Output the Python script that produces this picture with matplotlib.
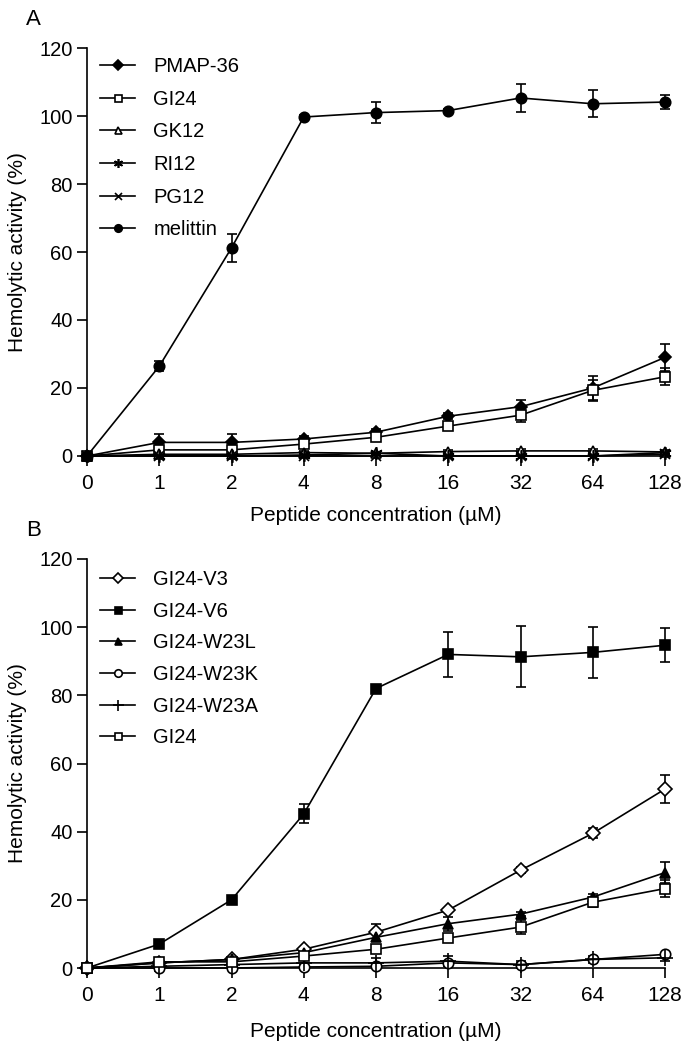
import numpy as np
import matplotlib
matplotlib.use("Agg")
import matplotlib.pyplot as plt

plt.rcParams['font.family'] = ['Liberation Sans', 'DejaVu Sans']

# x axis categories (µM), plotted at equal spacing
conc_labels = ['0', '1', '2', '4', '8', '16', '32', '64', '128']

# --- Panel A ---
pmap36 = [0, 4.0, 4.0, 5.0, 7.0, 11.7, 14.5, 20.0, 29.0]
pmap36_err = [0, 2.5, 2.5, 1.0, 0.8, 0.8, 2.0, 3.5, 4.0]
gi24 = [0, 1.8, 1.8, 3.5, 5.5, 8.8, 12.0, 19.3, 23.3]
gi24_err = [0, 0.5, 0.5, 0.8, 0.8, 1.0, 2.0, 3.0, 2.5]
gk12 = [0, 0.5, 0.5, 1.0, 0.8, 1.3, 1.5, 1.5, 1.2]
gk12_err = [0, 0.3, 0.3, 0.5, 0.5, 0.5, 0.5, 0.5, 0.5]
ri12 = [0, 0.0, 0.0, 0.3, 0.8, 0.0, 0.0, 0.0, 1.0]
ri12_err = [0, 0, 0, 0.3, 0.3, 0, 0, 0, 0.3]
pg12 = [0, 0, 0, 0, 0, 0, 0, 0, 0.5]
pg12_err = [0, 0, 0, 0, 0, 0, 0, 0, 0]
melittin = [0, 26.4, 61.2, 99.7, 101.0, 101.6, 105.3, 103.6, 104.1]
melittin_err = [0, 1.5, 4.0, 0.5, 3.0, 0.5, 4.0, 4.0, 2.0]

# --- Panel B ---
v3 = [0, 1.5, 2.5, 5.5, 10.5, 17.0, 28.7, 39.5, 52.5]
v3_err = [0, 0.3, 0.8, 0.5, 2.5, 0.5, 0.8, 1.5, 4.0]
v6 = [0, 7.0, 20.0, 45.2, 82.0, 92.0, 91.3, 92.6, 94.7]
v6_err = [0, 0.5, 0.5, 2.8, 0.8, 6.5, 9.0, 7.5, 5.0]
w23l = [0, 1.5, 2.5, 4.5, 9.0, 13.0, 15.8, 20.8, 28.0]
w23l_err = [0, 0.3, 0.5, 1.0, 1.0, 2.0, 0.5, 0.8, 3.0]
w23k = [0, 0.0, 0.0, 0.3, 0.5, 1.5, 1.0, 2.5, 4.0]
w23k_err = [0, 0.3, 0.3, 0.5, 0.5, 0.5, 0.5, 0.5, 0.5]
w23a = [0, 0.5, 1.0, 1.5, 1.5, 2.0, 1.0, 2.5, 3.0]
w23a_err = [0, 1.5, 1.0, 1.5, 1.5, 1.5, 1.0, 1.0, 1.0]
gi24_b = [0, 1.8, 1.8, 3.5, 5.5, 8.8, 12.0, 19.3, 23.3]
gi24_b_err = [0, 0.5, 0.5, 0.8, 0.8, 1.0, 2.0, 1.5, 2.5]

series_a = [
    ('PMAP-36', pmap36, pmap36_err, 'D', 'black', 6.5),
    ('GI24', gi24, gi24_err, 's', 'white', 7),
    ('GK12', gk12, gk12_err, '^', 'white', 7),
    ('RI12', ri12, ri12_err, (6, 2, 0), 'black', 9),
    ('PG12', pg12, pg12_err, 'x', 'black', 7),
    ('melittin', melittin, melittin_err, 'o', 'black', 7.5),
]
series_b = [
    ('GI24-V3', v3, v3_err, 'D', 'white', 7),
    ('GI24-V6', v6, v6_err, 's', 'black', 7),
    ('GI24-W23L', w23l, w23l_err, '^', 'black', 7),
    ('GI24-W23K', w23k, w23k_err, 'o', 'white', 7.5),
    ('GI24-W23A', w23a, w23a_err, '+', 'black', 11),
    ('GI24', gi24_b, gi24_b_err, 's', 'white', 7),
]

W, H = 694, 1042
fig = plt.figure(figsize=(W / 100, H / 100), dpi=100)

x = np.arange(len(conc_labels))


def draw_panel(ax, series, letter, legend_top, legend_spacing, xlabel_pad):
    for name, vals, err, mk, fc, ms in series:
        ax.errorbar(x, vals, yerr=err, color='black', lw=1.2, marker=mk,
                    markersize=ms, markerfacecolor=fc, markeredgecolor='black',
                    markeredgewidth=1.2, elinewidth=1.2, capsize=3.6, capthick=1.2,
                    label=name, clip_on=False, zorder=3)
    ax.set_xlim(0, 8)
    ax.set_ylim(0, 120)
    ax.set_xticks(x)
    ax.set_xticklabels(conc_labels)
    ax.set_yticks(range(0, 121, 20))
    ax.spines['top'].set_visible(False)
    ax.spines['right'].set_visible(False)
    ax.spines['left'].set_linewidth(1.2)
    ax.spines['bottom'].set_linewidth(1.2)
    ax.tick_params(direction='out', length=7, width=1.2)
    ax.tick_params(axis='y', labelsize=14.5, pad=3.5)
    ax.tick_params(axis='x', labelsize=15, pad=6)
    ax.set_xlabel('Peptide concentration (\u00b5M)', fontsize=15, labelpad=xlabel_pad)
    ax.set_ylabel('Hemolytic activity (%)', fontsize=15, labelpad=9)

    handles, labels = ax.get_legend_handles_labels()
    handles = [h[0] for h in handles]
    ax.legend(handles, labels, loc='upper left',
              bbox_to_anchor=(100 / W, 1 - legend_top / H),
              bbox_transform=fig.transFigure, borderpad=0, borderaxespad=0,
              frameon=False, fontsize=14.5, handlelength=1.75, handletextpad=0.9,
              labelspacing=legend_spacing, markerscale=0.72)
    ax.text(-0.105, 1.045, letter, transform=ax.transAxes, fontsize=16,
            ha='left', va='bottom')


axA = fig.add_axes([87 / W, 1 - 456 / H, (665 - 87) / W, (456 - 48) / H])
draw_panel(axA, series_a, 'A', 57, 0.68, 9)

axB = fig.add_axes([87 / W, 1 - 968 / H, (665 - 87) / W, (968 - 559) / H])
draw_panel(axB, series_b, 'B', 570, 0.63, 12)

fig.savefig('out.png', dpi=100, facecolor='white')
